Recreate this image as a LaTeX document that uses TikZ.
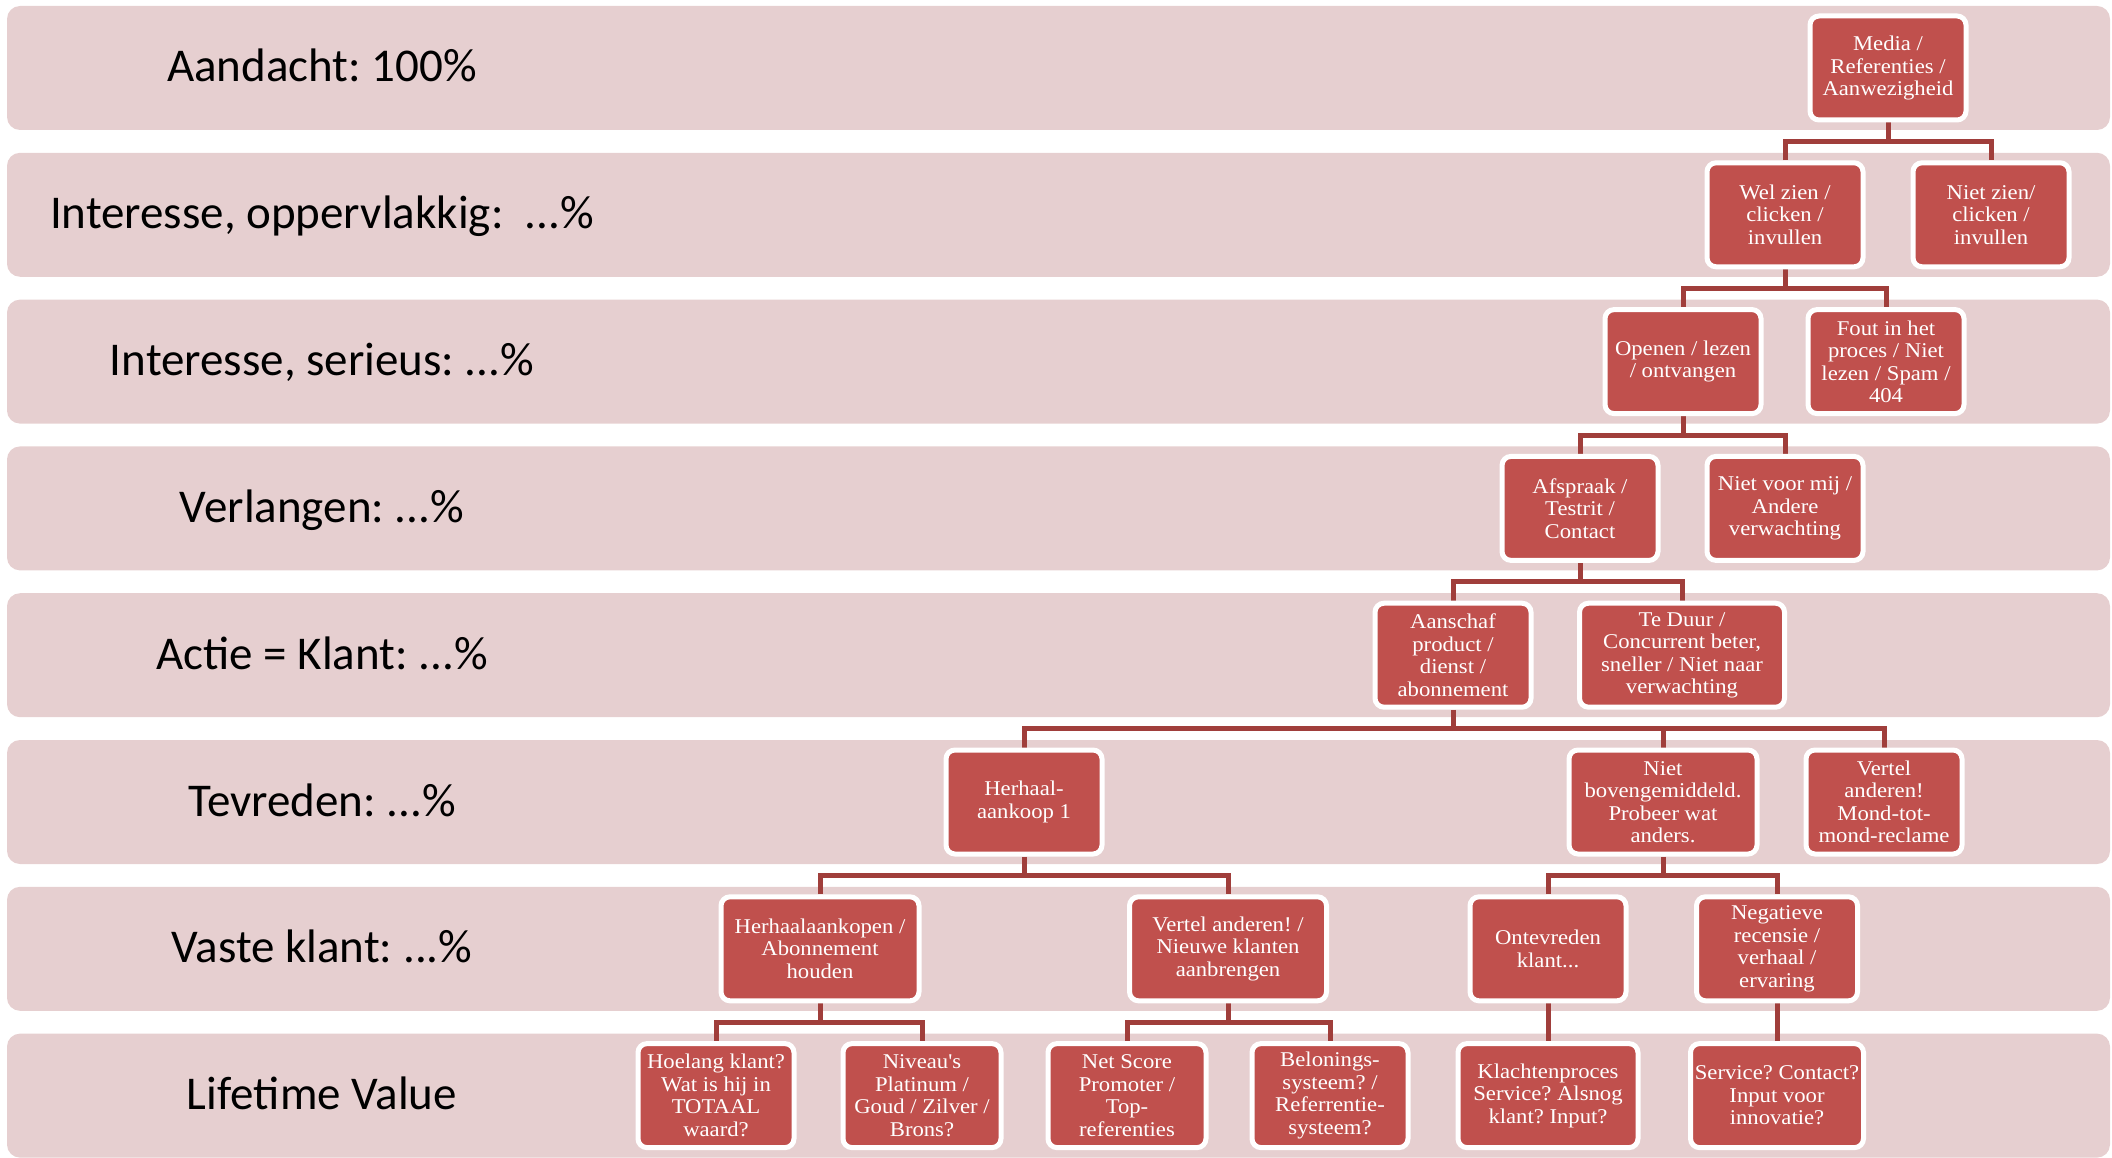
\documentclass[tikz,border=0pt]{standalone}
\usepackage{fontspec}
\setmainfont{Liberation Serif}[FakeStretch=1.08, Ligatures=TeXOff]
\newfontfamily\labelfont{Carlito}
\frenchspacing
\usetikzlibrary{backgrounds}
\definecolor{bandpink}{RGB}{230,207,208}
\definecolor{nodered}{RGB}{192,80,77}
\definecolor{linkred}{RGB}{160,62,59}
\tikzset{
  box/.style={draw=white, line width=5pt, fill=nodered, rounded corners=9pt,
    minimum width=156pt, minimum height=104pt, inner sep=2pt, align=center,
    text=white, font=\fontsize{21}{22.5}\selectfont,
    execute at begin node={\rule{0pt}{21pt}}},
  lbl/.style={font=\labelfont\fontsize{47}{56}\selectfont, text=black, anchor=base},
  bandbox/.style={fill=bandpink, rounded corners=13pt},
  link/.style={draw=linkred, line width=5pt},
}
\begin{document}
\begin{tikzpicture}[x=1pt,y=-1pt]
\useasboundingbox (0,0) rectangle (2112,1158);
\begin{scope}[on background layer]
\foreach \i in {0,...,7}
  \fill[bandbox] (7,{6+146.8*\i}) rectangle (2110,{130+146.8*\i});
\end{scope}
% level labels
\node[lbl] (l1) at (322,82) {Aandacht: 100\%};
\node[lbl] (l2) at (322,228.8) {Interesse, oppervlakkig:\ \ ...\%};
\node[lbl] (l3) at (322,375.6) {Interesse, serieus: ...\%};
\node[lbl] (l4) at (322,522.4) {Verlangen: ...\%};
\node[lbl] (l5) at (322,669.2) {Actie = Klant: ...\%};
\node[lbl] (l6) at (322,816) {Tevreden: ...\%};
\node[lbl] (l7) at (322,962.8) {Vaste klant: ...\%};
\node[lbl] (l8) at (322,1109.6) {Lifetime Value};
% bar levels
\coordinate (b1) at (0,141.4);
\coordinate (b2) at (0,288.2);
\coordinate (b3) at (0,435);
\coordinate (b4) at (0,581.8);
\coordinate (b5) at (0,728.6);
\coordinate (b6) at (0,875.4);
\coordinate (b7) at (0,1022.2);
% nodes
\node[box] (m1) at (1888,68) {Media /\\Referenties /\\Aanwezigheid};
\node[box] (w) at (1785,214.8) {Wel zien /\\clicken /\\invullen};
\node[box] (nz) at (1991,214.8) {Niet zien/\\clicken /\\invullen};
\node[box] (op) at (1683,361.6) {Openen / lezen\\/ ontvangen};
\node[box] (fo) at (1886,361.6) {Fout in het\\proces / Niet\\lezen / Spam /\\404};
\node[box] (af) at (1580,508.4) {Afspraak /\\Testrit /\\Contact};
\node[box] (nv) at (1785,508.4) {Niet voor mij /\\Andere\\verwachting};
\node[box] (aa) at (1453,655.2) {Aanschaf\\product /\\dienst /\\abonnement};
\node[box, minimum width=205pt] (td) at (1682,655.2) {Te Duur /\\Concurrent beter,\\sneller / Niet naar\\verwachting};
\node[box] (hk) at (1024,802) {Herhaal-\\aankoop 1};
\node[box, minimum width=188pt] (nb) at (1663,802) {Niet\\bovengemiddeld.\\Probeer wat\\anders.};
\node[box] (va) at (1884,802) {Vertel\\anderen!\\Mond-tot-\\mond-reclame};
\node[box, minimum width=198pt] (ha) at (820,948.8) {Herhaalaankopen /\\Abonnement\\houden};
\node[box, minimum width=197pt] (vn) at (1228,948.8) {Vertel anderen! /\\Nieuwe klanten\\aanbrengen};
\node[box] (ok) at (1548,948.8) {Ontevreden\\klant...};
\node[box, minimum width=161pt] (nr) at (1777,948.8) {Negatieve\\recensie /\\verhaal /\\ervaring};
\node[box] (hl) at (716,1095.6) {Hoelang klant?\\Wat is hij in\\TOTAAL\\waard?};
\node[box, minimum width=158pt] (ni) at (922,1095.6) {Niveau's\\Platinum /\\Goud / Zilver /\\Brons?};
\node[box, minimum width=158pt] (ns) at (1127,1095.6) {Net Score\\Promoter /\\Top-\\referenties};
\node[box] (bs) at (1330,1095.6) {Belonings-\\systeem? /\\Referrentie-\\systeem?};
\node[box, minimum width=180pt] (kp) at (1548,1095.6) {Klachtenproces\\Service? Alsnog\\klant? Input?};
\node[box, minimum width=173pt] (sc) at (1777,1095.6) {Service? Contact?\\Input voor\\innovatie?};
% connectors
\begin{scope}[on background layer]
\draw[link] (m1.south) -- (m1.south|-b1);
\draw[link] (w.north) |- (nz.north|-b1) -- (nz.north);
\draw[link] (w.south) -- (w.south|-b2);
\draw[link] (op.north) |- (fo.north|-b2) -- (fo.north);
\draw[link] (op.south) -- (op.south|-b3);
\draw[link] (af.north) |- (nv.north|-b3) -- (nv.north);
\draw[link] (af.south) -- (af.south|-b4);
\draw[link] (aa.north) |- (td.north|-b4) -- (td.north);
\draw[link] (aa.south) -- (aa.south|-b5);
\draw[link] (hk.north) |- (va.north|-b5) -- (va.north);
\draw[link] (nb.north) -- (nb.north|-b5);
\draw[link] (hk.south) -- (hk.south|-b6);
\draw[link] (ha.north) |- (vn.north|-b6) -- (vn.north);
\draw[link] (nb.south) -- (nb.south|-b6);
\draw[link] (ok.north) |- (nr.north|-b6) -- (nr.north);
\draw[link] (ha.south) -- (ha.south|-b7);
\draw[link] (hl.north) |- (ni.north|-b7) -- (ni.north);
\draw[link] (vn.south) -- (vn.south|-b7);
\draw[link] (ns.north) |- (bs.north|-b7) -- (bs.north);
\draw[link] (ok.south) -- (kp.north);
\draw[link] (nr.south) -- (sc.north);
\end{scope}
\end{tikzpicture}
\end{document}
